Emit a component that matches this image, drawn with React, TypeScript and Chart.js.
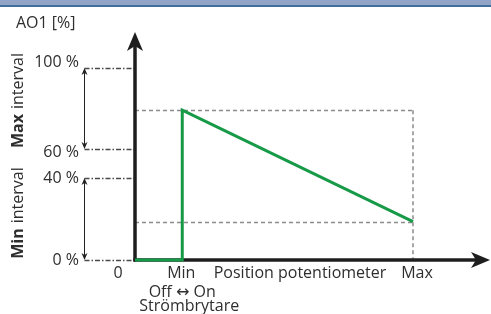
import React, { useEffect, useRef } from "react";
import { Chart, registerables } from "chart.js";

Chart.register(...registerables);

// Position potentiometer (schematic units: 0 = start, 100 = Max)
const seriesX = [0, 17, 17, 100];
// AO1 output [%]
const seriesY = [0, 0, 78, 20];

const xTickValues = [0, 17, 100];
const xTickLabels = ["0", "Min", "Max"];

// schematic (non-linear) positions of the y tick labels
const yTickValues = [0, 42.7, 57.8, 100];
const yTickLabels = ["0 %", "40 %", "60 %", "100 %"];

const guideY = [78, 20];
const guideX = 100;

const maxInterval = [57.8, 100];
const minInterval = [0, 42.7];

const FONT = '"Open Sans", "DejaVu Sans", sans-serif';
const TEXT = "#2e2e2e";
const FS = 16;

function arrowHead(ctx: CanvasRenderingContext2D, x: number, y: number, dir: string, len: number, half: number, notch: number) {
  ctx.beginPath();
  if (dir === "up") {
    ctx.moveTo(x, y);
    ctx.lineTo(x - half, y + len);
    ctx.lineTo(x, y + len - notch);
    ctx.lineTo(x + half, y + len);
  } else if (dir === "down") {
    ctx.moveTo(x, y);
    ctx.lineTo(x - half, y - len);
    ctx.lineTo(x, y - len + notch);
    ctx.lineTo(x + half, y - len);
  } else {
    ctx.moveTo(x, y);
    ctx.lineTo(x - len, y - half);
    ctx.lineTo(x - len + notch, y);
    ctx.lineTo(x - len, y + half);
  }
  ctx.closePath();
  ctx.fill();
}

const schemePlugin = {
  id: "scheme",
  beforeDraw(chart: any) {
    const ctx = chart.ctx as CanvasRenderingContext2D;
    ctx.save();
    ctx.fillStyle = "#ffffff";
    ctx.fillRect(0, 0, chart.width, chart.height);
    ctx.fillStyle = "#93a5c6";
    ctx.fillRect(0, 0, chart.width, 5);
    ctx.fillStyle = "#3f6e9f";
    ctx.fillRect(0, 5, chart.width, 2);
    ctx.restore();
  },
  beforeDatasetsDraw(chart: any) {
    const ctx = chart.ctx as CanvasRenderingContext2D;
    const xs = chart.scales.x;
    const ys = chart.scales.y;
    const x0 = xs.getPixelForValue(0);
    const y0 = ys.getPixelForValue(0);
    const area = chart.chartArea;
    ctx.save();

    // grey dashed guides
    ctx.strokeStyle = "#8c8c8c";
    ctx.lineWidth = 1.5;
    ctx.setLineDash([4, 3]);
    const xg = xs.getPixelForValue(guideX);
    guideY.forEach((v) => {
      const py = Math.round(ys.getPixelForValue(v)) + 0.5;
      ctx.beginPath();
      ctx.moveTo(x0, py);
      ctx.lineTo(xg, py);
      ctx.stroke();
    });
    ctx.beginPath();
    ctx.moveTo(xg, ys.getPixelForValue(guideY[0]));
    ctx.lineTo(xg, y0);
    ctx.stroke();

    // dash-dot reference lines to the left
    const arrowX = 84.5;
    ctx.strokeStyle = "#4a4a4a";
    ctx.lineWidth = 1.3;
    ctx.setLineDash([5, 2, 1.5, 2]);
    yTickValues.forEach((v) => {
      const py = Math.round(ys.getPixelForValue(v)) + 0.5;
      ctx.beginPath();
      ctx.moveTo(arrowX, py);
      ctx.lineTo(x0, py);
      ctx.stroke();
    });
    ctx.setLineDash([]);

    // double arrows for the intervals
    ctx.strokeStyle = "#222";
    ctx.fillStyle = "#222";
    ctx.lineWidth = 1;
    [maxInterval, minInterval].forEach((iv) => {
      const yb = ys.getPixelForValue(iv[0]);
      const yt = ys.getPixelForValue(iv[1]);
      ctx.beginPath();
      ctx.moveTo(arrowX, yt + 3);
      ctx.lineTo(arrowX, yb - 3);
      ctx.stroke();
      arrowHead(ctx, arrowX, yt, "up", 7, 3, 2);
      arrowHead(ctx, arrowX, yb, "down", 7, 3, 2);
    });

    // axes
    ctx.strokeStyle = "#1e1e1e";
    ctx.fillStyle = "#1e1e1e";
    ctx.lineWidth = 3.5;
    ctx.beginPath();
    ctx.moveTo(x0, y0 + 1.5);
    ctx.lineTo(x0, area.top + 12);
    ctx.stroke();
    ctx.beginPath();
    ctx.moveTo(x0 - 1.5, y0);
    ctx.lineTo(area.right - 12, y0);
    ctx.stroke();
    arrowHead(ctx, x0, area.top, "up", 19, 8, 5);
    arrowHead(ctx, area.right, y0, "right", 19, 8, 5);

    // y tick labels
    ctx.fillStyle = TEXT;
    ctx.font = `${FS}px ${FONT}`;
    ctx.textAlign = "right";
    ctx.textBaseline = "middle";
    yTickValues.forEach((v, i) => {
      const py = ys.getPixelForValue(v);
      const off = i === yTickValues.length - 1 ? -6 : i === 2 ? 3 : 0;
      ctx.fillText(yTickLabels[i], 79, py + off);
    });

    // x tick labels
    ctx.textAlign = "center";
    ctx.textBaseline = "middle";
    xTickValues.forEach((v, i) => {
      let px = xs.getPixelForValue(v);
      if (i === 0) px -= 17;
      if (i === 1) px -= 1;
      if (i === 2) px += 4;
      ctx.fillText(xTickLabels[i], px, y0 + 13);
    });
    ctx.fillText("Position potentiometer", 300, y0 + 13);
    ctx.fillText("Off \u2194 On", xs.getPixelForValue(17), y0 + 32);
    ctx.fillText("Str\u00f6mbrytare", xs.getPixelForValue(17) + 7, y0 + 46);

    // axis title
    ctx.textAlign = "left";
    ctx.fillText("AO1 [%]", 16, 23);

    // rotated interval labels
    const rotLabel = (bold: string, rest: string, cy: number) => {
      ctx.save();
      ctx.translate(18, cy);
      ctx.rotate(-Math.PI / 2);
      ctx.textBaseline = "middle";
      ctx.font = `bold ${FS}px ${FONT}`;
      const wb = ctx.measureText(bold).width + 5;
      ctx.font = `${FS}px ${FONT}`;
      const wr = ctx.measureText(rest).width;
      const start = -(wb + wr) / 2;
      ctx.textAlign = "left";
      ctx.font = `bold ${FS}px ${FONT}`;
      ctx.fillText(bold, start, 0);
      ctx.font = `${FS}px ${FONT}`;
      ctx.fillText(rest, start + wb, 0);
      ctx.restore();
    };
    rotLabel("Max", "interval", (ys.getPixelForValue(maxInterval[0]) + ys.getPixelForValue(maxInterval[1])) / 2 - 8);
    rotLabel("Min", "interval", (ys.getPixelForValue(minInterval[0]) + ys.getPixelForValue(minInterval[1])) / 2 - 6);

    ctx.restore();
  },
};

export default function App() {
  const ref = useRef<HTMLCanvasElement | null>(null);
  useEffect(() => {
    document.body.style.margin = "0";
    const canvas = ref.current!;
    const chart = new Chart(canvas, {
      type: "line",
      data: {
        datasets: [
          {
            data: seriesX.map((x, i) => ({ x, y: seriesY[i] })),
            borderColor: "#179a48",
            borderWidth: 3,
            pointRadius: 0,
            tension: 0,
            fill: false,
            clip: false as any,
          },
        ],
      },
      options: {
        responsive: false,
        animation: false,
        devicePixelRatio: 1,
        layout: { padding: { left: 135, right: 1, top: 32, bottom: 54 } },
        plugins: { legend: { display: false }, tooltip: { enabled: false } },
        scales: {
          x: { type: "linear", min: 0, max: 127.7, display: false },
          y: { type: "linear", min: 0, max: 118.75, display: false },
        },
      },
      plugins: [schemePlugin],
    });
    return () => chart.destroy();
  }, []);
  return (
    <div style={{ position: "absolute", left: 0, top: 0, width: 491, height: 314 }}>
      <canvas ref={ref} width={491} height={314} style={{ width: 491, height: 314 }} />
    </div>
  );
}
